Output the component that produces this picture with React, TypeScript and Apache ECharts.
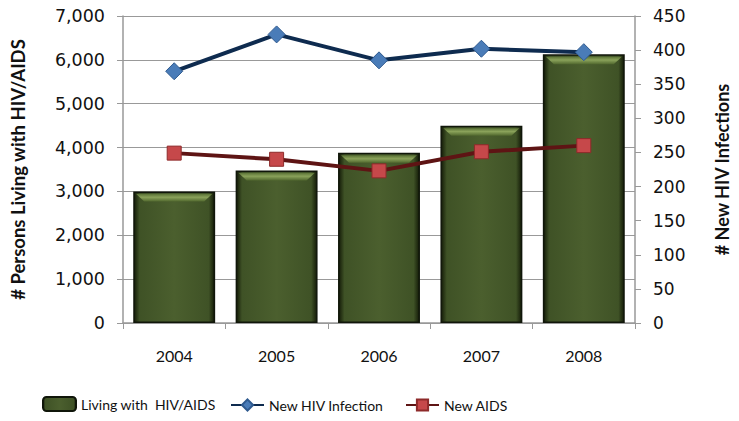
import React, { useEffect, useRef } from "react";
import * as echarts from "echarts";

const years = ["2004", "2005", "2006", "2007", "2008"];
const livingWithHIV = [3000, 3480, 3880, 4500, 6130];
const newHIVInfection = [369, 423, 385, 402, 397];
const newAIDS = [249, 240, 223, 251, 260];

const FONT = "Lato";
const TICKFONT = "DejaVu Sans";

export default function App() {
  const ref = useRef<HTMLDivElement>(null);
  useEffect(() => {
    const chart = echarts.init(ref.current!, null, { renderer: "svg" });
    const barGrad = new echarts.graphic.LinearGradient(0, 0, 1, 0, [
      { offset: 0, color: "#141b08" },
      { offset: 0.07, color: "#3f5226" },
      { offset: 0.5, color: "#4b5f2e" },
      { offset: 0.93, color: "#3f5226" },
      { offset: 1, color: "#141b08" },
    ]);
    const legendText = { fontSize: 14, color: "#111", fontFamily: FONT };
    chart.setOption({
      animation: false,
      backgroundColor: "#ffffff",
      textStyle: { fontFamily: FONT },
      grid: { left: 118, right: 103, top: 16, bottom: 98, containLabel: false },
      legend: [
        {
          bottom: 4,
          left: 37,
          itemWidth: 33,
          itemHeight: 14,
          textStyle: legendText,
          data: [{ name: "Living with  HIV/AIDS" }],
        },
        {
          bottom: 4,
          left: 225,
          itemWidth: 33,
          itemHeight: 14,
          textStyle: legendText,
          data: [{ name: "New HIV Infection" }],
        },
        {
          bottom: 4,
          left: 400,
          itemWidth: 33,
          itemHeight: 14,
          textStyle: legendText,
          data: [{ name: "New AIDS" }],
        },
      ],
      xAxis: {
        type: "category",
        data: years,
        axisLine: { lineStyle: { color: "#999", width: 1.5 } },
        axisTick: { show: true, length: 6, lineStyle: { color: "#999" } },
        axisLabel: { fontSize: 16, color: "#111", margin: 24, fontFamily: FONT },
      },
      yAxis: [
        {
          type: "value",
          min: 0,
          max: 7000,
          interval: 1000,
          name: "# Persons Living with HIV/AIDS",
          nameLocation: "middle",
          nameRotate: 90,
          nameGap: 96,
          nameTextStyle: { fontSize: 18.5, fontWeight: "bold", color: "#111", fontFamily: FONT },
          axisLine: { show: true, lineStyle: { color: "#999", width: 1.5 } },
          axisTick: { show: true, length: 6, lineStyle: { color: "#999" } },
          axisLabel: {
            fontSize: 17.5,
            color: "#111",
            margin: 18,
            fontFamily: TICKFONT,
            formatter: (v: number) => v.toLocaleString("en-US"),
          },
          splitLine: { show: true, lineStyle: { color: "#999", width: 1.2 } },
        },
        {
          type: "value",
          min: 0,
          max: 450,
          interval: 50,
          name: "# New HIV Infections",
          nameLocation: "middle",
          nameRotate: 90,
          nameGap: 78,
          nameTextStyle: { fontSize: 18, fontWeight: "bold", color: "#111", fontFamily: FONT },
          axisLine: { show: true, lineStyle: { color: "#999", width: 1.5 } },
          axisTick: { show: true, length: 6, lineStyle: { color: "#999" } },
          axisLabel: { fontSize: 17, color: "#111", margin: 18, fontFamily: TICKFONT },
          splitLine: { show: false },
        },
      ],
      series: [
        {
          name: "Living with  HIV/AIDS",
          type: "bar",
          yAxisIndex: 0,
          data: livingWithHIV,
          barCategoryGap: "20%",
          itemStyle: {
            color: barGrad,
            borderColor: "#10160a",
            borderWidth: 1.5,
          },
        },
        {
          name: "bevel",
          type: "custom",
          coordinateSystem: "cartesian2d",
          xAxisIndex: 0,
          yAxisIndex: 0,
          encode: { x: 0, y: 1 },
          data: livingWithHIV.map((v, i) => [i, v]),
          silent: true,
          z: 5,
          renderItem: (params: any, api: any) => {
            const top = api.coord([api.value(0), api.value(1)]);
            const w = api.size([1, 0])[0] * 0.8;
            const x0 = top[0] - w / 2;
            const x1 = top[0] + w / 2;
            const y = top[1];
            return {
              type: "polygon",
              shape: {
                points: [
                  [x0 + 3, y + 2.5],
                  [x1 - 3, y + 2.5],
                  [x1 - 11, y + 10],
                  [x0 + 11, y + 10],
                ],
              },
              style: {
                fill: new echarts.graphic.LinearGradient(0, 0, 0, 1, [
                  { offset: 0, color: "#5a7236" },
                  { offset: 0.45, color: "#8aa25a" },
                  { offset: 1, color: "#52692f" },
                ]),
                stroke: "none",
              },
            };
          },
        },
        {
          name: "New HIV Infection",
          type: "line",
          yAxisIndex: 1,
          data: newHIVInfection,
          symbol: "diamond",
          symbolSize: 17,
          lineStyle: { color: "#0e2b4f", width: 4 },
          itemStyle: { color: "#4a7cb8", borderColor: "#2f5a8f", borderWidth: 1 },
          z: 6,
        },
        {
          name: "New AIDS",
          type: "line",
          yAxisIndex: 1,
          data: newAIDS,
          symbol: "rect",
          symbolSize: 14,
          lineStyle: { color: "#5e1414", width: 4 },
          itemStyle: { color: "#c6484a", borderColor: "#8e2a2a", borderWidth: 1 },
          z: 7,
        },
      ],
    });
    return () => chart.dispose();
  }, []);
  return <div ref={ref} style={{ width: 739, height: 421, position: "absolute", left: 0, top: 0 }} />;
}
